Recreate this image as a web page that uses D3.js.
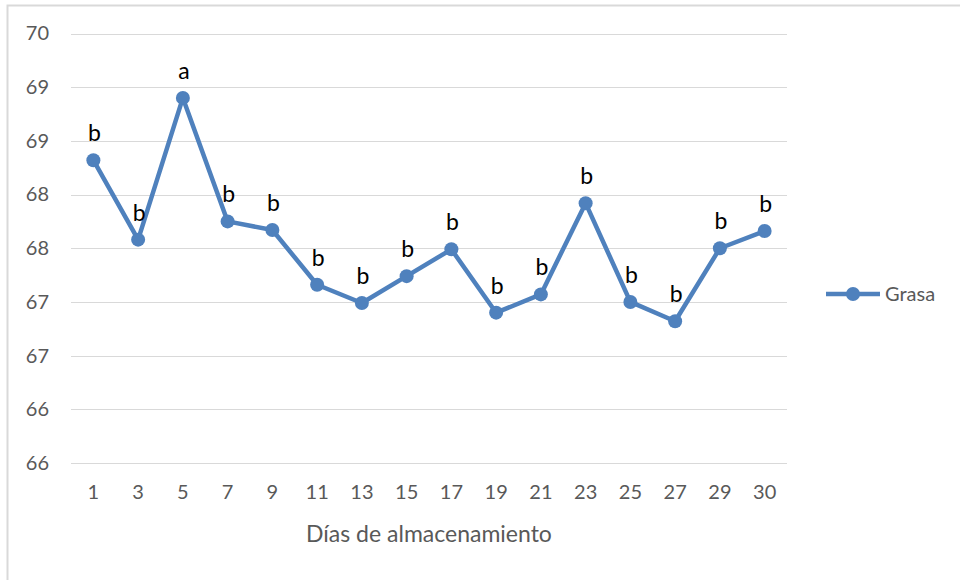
<!DOCTYPE html>
<html>
<head>
<meta charset="utf-8">
<script src="https://cdn.jsdelivr.net/npm/d3@7"></script>
<style>
  body { margin: 0; background: #fff; }
  svg { display: block; font-family: Lato, "Open Sans", sans-serif; }
</style>
</head>
<body>
<div id="chart"></div>
<script>
// storage days (x categories)
var dias = ["1", "3", "5", "7", "9", "11", "13", "15", "17", "19", "21", "23", "25", "27", "29", "30"];
// fat content
var grasa = [68.82, 68.08, 69.40, 68.25, 68.17, 67.66, 67.49, 67.74, 67.99, 67.40, 67.57, 68.42, 67.50, 67.32, 68.00, 68.16];
// significance letters
var letras = ["b", "b", "a", "b", "b", "b", "b", "b", "b", "b", "b", "b", "b", "b", "b", "b"];
// y ticks and their (rounded) labels as shown
var yTicks = [70, 69.5, 69, 68.5, 68, 67.5, 67, 66.5, 66];
var yLabels = ["70", "69", "69", "68", "68", "67", "67", "66", "66"];

function drawChart()
{
  var width = 960, height = 580;
  var mLeft = 71, mRight = 787, mTop = 33.5, mBottom = 463;
  var blue = "#4F81BD";

  var svg = d3.select("#chart").append("svg")
    .attr("width", width)
    .attr("height", height);

  // outer chart border
  svg.append("rect")
    .attr("x", 7.5).attr("y", 5.5)
    .attr("width", 980).attr("height", 600)
    .attr("fill", "#fff")
    .attr("stroke", "#d9d9d9")
    .attr("stroke-width", 2);

  var x = d3.scaleBand()
    .domain(dias)
    .range([mLeft, mRight]);

  var y = d3.scaleLinear()
    .domain([66, 70])
    .range([mBottom, mTop]);

  // gridlines
  svg.append("g")
    .selectAll("line")
    .data(yTicks)
    .enter()
    .append("line")
      .attr("x1", mLeft).attr("x2", mRight)
      .attr("y1", d => Math.round(y(d)) + 0.5).attr("y2", d => Math.round(y(d)) + 0.5)
      .attr("stroke", "#d9d9d9")
      .attr("stroke-width", 1);

  // y axis labels
  var yAxis = d3.axisLeft(y)
    .tickValues(yTicks)
    .tickSize(0)
    .tickPadding(22)
    .tickFormat((d, i) => yLabels[i]);

  var gy = svg.append("g")
    .attr("transform", `translate(${mLeft},0)`)
    .call(yAxis);
  gy.select(".domain").remove();
  gy.selectAll("text")
    .attr("fill", "#595959")
    .style("font-size", "20px")
    .style("font-family", "Lato, sans-serif");

  // x axis labels
  var xAxis = d3.axisBottom(x)
    .tickSize(0)
    .tickPadding(22);

  var gx = svg.append("g")
    .attr("transform", `translate(0,${mBottom})`)
    .call(xAxis);
  gx.select(".domain").remove();
  gx.selectAll("text")
    .attr("fill", "#595959")
    .style("font-size", "20px")
    .style("font-family", "Lato, sans-serif");

  // axis title
  svg.append("text")
    .attr("x", 429)
    .attr("y", 542)
    .attr("text-anchor", "middle")
    .attr("fill", "#595959")
    .style("font-size", "23px")
    .text("Días de almacenamiento");

  var cx = d => x(d) + x.bandwidth() / 2;

  // the line
  var line = d3.line()
    .x((d, i) => cx(dias[i]))
    .y(d => y(d));

  svg.append("path")
    .datum(grasa)
    .attr("d", line)
    .attr("fill", "none")
    .attr("stroke", blue)
    .attr("stroke-width", 4.5)
    .attr("stroke-linejoin", "round");

  // markers
  svg.append("g")
    .selectAll("circle")
    .data(grasa)
    .enter()
    .append("circle")
      .attr("cx", (d, i) => cx(dias[i]))
      .attr("cy", d => y(d))
      .attr("r", 7)
      .attr("fill", blue);

  // letters above points
  svg.append("g")
    .selectAll("text")
    .data(grasa)
    .enter()
    .append("text")
      .attr("x", (d, i) => cx(dias[i]) + 1)
      .attr("y", d => y(d) - 19)
      .attr("text-anchor", "middle")
      .attr("fill", "#000")
      .style("font-size", "23px")
      .text((d, i) => letras[i]);

  // legend
  var lg = svg.append("g").attr("transform", "translate(826,294)");
  lg.append("line")
    .attr("x1", 0).attr("x2", 54)
    .attr("stroke", blue)
    .attr("stroke-width", 4.5);
  lg.append("circle")
    .attr("cx", 27).attr("r", 7)
    .attr("fill", blue);
  lg.append("text")
    .attr("x", 59).attr("y", 7)
    .attr("fill", "#595959")
    .style("font-size", "20px")
    .text("Grasa");
}

drawChart();
</script>
</body>
</html>
